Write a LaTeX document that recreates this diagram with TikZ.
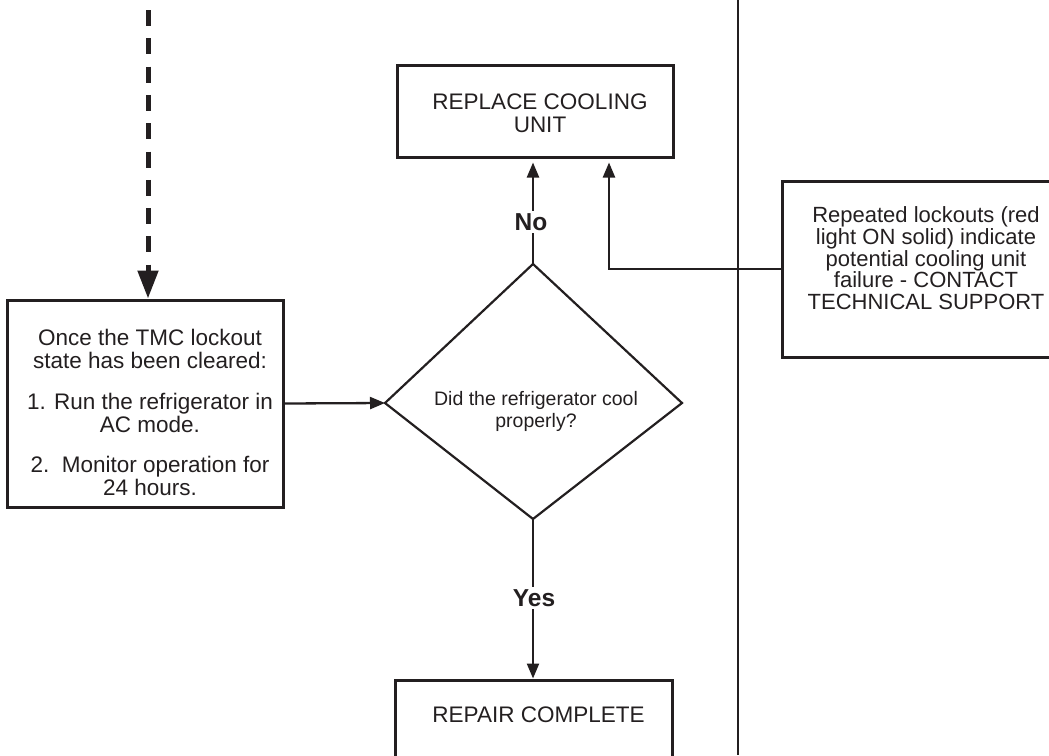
\documentclass[tikz,border=0pt]{standalone}
\usepackage{fontspec}
\setmainfont{Liberation Sans}
\usetikzlibrary{arrows.meta}
\definecolor{ink}{HTML}{231F20}
\begin{document}
\begin{tikzpicture}[x=1pt,y=-1pt,
  box/.style={draw=ink, line width=3pt, inner sep=0pt},
  conn/.style={draw=ink, line width=2.3pt, -{Triangle[length=15pt,width=12pt]}},
  txt/.style={text=ink, align=center, inner sep=0pt, anchor=base, font=\fontsize{22.5}{23}\selectfont},
  lbl/.style={text=ink, fill=white, inner sep=2pt, font=\bfseries\fontsize{24.5}{24.5}\selectfont}]
\useasboundingbox (0,0) rectangle (1049,755);
\clip (0,0) rectangle (1049,755);

% boxes
\node[box, minimum width=276pt, minimum height=207pt] (left) at (145,403.5) {};
\node[box, minimum width=276pt, minimum height=92pt] (replace) at (535,111) {};
\node[box, minimum width=277pt, minimum height=120pt] (repair) at (533.5,740) {};
\node[box, minimum width=288pt, minimum height=176pt] (rbox) at (926,269) {};

% diamond
\coordinate (dT) at (533,264);
\coordinate (dL) at (385,403);
\coordinate (dR) at (682,403);
\coordinate (dB) at (533,519);
\draw[ink, line width=2.2pt, line join=miter] (dT) -- (dR) -- (dB) -- (dL) -- cycle;

% divider
\coordinate (vt) at (737.5,0);
\coordinate (vb) at (737.5,755);
\draw[ink, line width=2pt] (vt) -- (vb);

% dashed incoming arrow
\coordinate (ds) at (148,10);
\draw[ink, line width=5pt, dash pattern=on 16pt off 12.3pt, -{Triangle[length=28pt,width=20pt]}] (ds) -- (left.north -| ds);

% connectors
\draw[conn] (left.east) -- (dL);
\draw[conn, shorten >=4pt] (dT) -- (dT |- replace.south);
\draw[conn, shorten >=4pt] (rbox.west) -| ([xshift=74pt]replace.south);
\draw[conn] (dB) -- (dB |- repair.north);

% labels
\node[lbl] (no) at (531,222) {No};
\node[lbl] (yes) at (534,598) {Yes};

% texts (anchor base = baseline of last line)
\node[txt] (lt) at (150,495) {Once the TMC lockout\\state has been cleared:\\[17.5pt]1. Run the refrigerator in\\AC mode.\\[17pt]2.\ \ Monitor operation for\\24 hours.};
\node[txt, font=\fontsize{22}{21.7}\selectfont] (rt) at (926,309.5) {Repeated lockouts (red\\light ON solid) indicate\\potential cooling unit\\failure - CONTACT\\TECHNICAL SUPPORT};
\node[txt, font=\fontsize{19.5}{22}\selectfont] (dt) at (536,427) {Did the refrigerator cool\\properly?};
\node[txt] (rpt) at (540,132.5) {REPLACE COOLING\\UNIT};
\node[txt] (rct) at (538.5,722.5) {REPAIR COMPLETE};
\end{tikzpicture}
\end{document}
